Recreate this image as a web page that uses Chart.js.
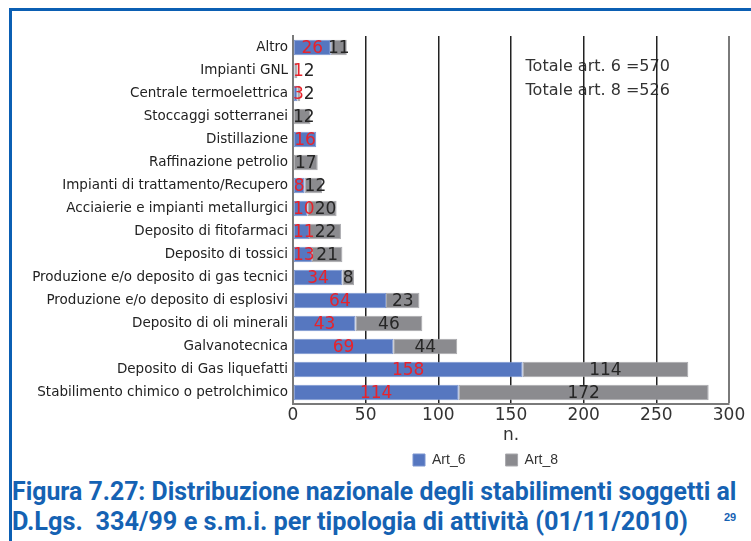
<!DOCTYPE html>
<html>
<head>
<meta charset="utf-8">
<script src="https://cdn.jsdelivr.net/npm/chart.js@4"></script>
<style>
  html, body { margin: 0; padding: 0; background: #fff; }
  body { width: 751px; height: 541px; position: relative; overflow: hidden; }
  #frameTop { position: absolute; left: 9px; top: 8px; width: 742px; height: 3px; background: #0b5fb3; }
  #frameLeft { position: absolute; left: 9px; top: 8px; width: 3px; height: 533px; background: #0b5fb3; }
  #box { position: absolute; left: 12px; top: 11px; width: 739px; height: 466px; }
  .cap { position: absolute; left: 12px; font-family: 'Liberation Sans Narrow', 'Roboto', sans-serif; font-weight: bold;
         font-size: 25px; line-height: 25px; color: #1562b3; white-space: nowrap; transform-origin: 0 0; }
  #pageNo { position: absolute; left: 724px; top: 511px; font-family: 'Liberation Sans Narrow', sans-serif; font-weight: bold;
            font-size: 11px; color: #1562b3; }
</style>
</head>
<body>
<div id="frameTop"></div>
<div id="frameLeft"></div>
<div id="box"><canvas id="chart"></canvas></div>
<div class="cap" id="cap1" style="top:479px">Figura 7.27: Distribuzione nazionale degli stabilimenti soggetti al</div>
<div class="cap" id="cap2" style="top:509px">D.Lgs.&nbsp; 334/99 e s.m.i. per tipologia di attività (01/11/2010)</div>
<div id="pageNo">29</div>
<script>
// categories top to bottom, as in the picture
const categories = [
    'Altro',
    'Impianti GNL',
    'Centrale termoelettrica',
    'Stoccaggi sotterranei',
    'Distillazione',
    'Raffinazione petrolio',
    'Impianti di trattamento/Recupero',
    'Acciaierie e impianti metallurgici',
    'Deposito di fitofarmaci',
    'Deposito di tossici',
    'Produzione e/o deposito di gas tecnici',
    'Produzione e/o deposito di esplosivi',
    'Deposito di oli minerali',
    'Galvanotecnica',
    'Deposito di Gas liquefatti',
    'Stabilimento chimico o petrolchimico'
];
const art6 = [26, 1, 3, 0, 16, 0, 8, 10, 11, 13, 34, 64, 43, 69, 158, 114];
const art8 = [11, 2, 2, 12, 0, 17, 12, 20, 22, 21, 8, 23, 46, 44, 114, 172];
const seriesNames = ['Art_6', 'Art_8'];
const xTicks = [0, 50, 100, 150, 200, 250, 300];
const totals = ['Totale art. 6 =570', 'Totale art. 8 =526'];

const BLUE = '#5677c0';
const GREY = '#8b8b8f';

// fit the caption lines to the width they have in the slide
function fitCaption(id, width) {
    const el = document.getElementById(id);
    el.style.transform = 'scaleX(' + (width / el.offsetWidth) + ')';
}
fitCaption('cap1', 724);
fitCaption('cap2', 676);

// value labels: red inside blue, dark inside grey, pushed right when they collide
const barLabels = {
    id: 'barLabels',
    afterDatasetsDraw(chart) {
        const ctx = chart.ctx;
        ctx.save();
        ctx.font = '17px "DejaVu Sans"';
        ctx.textAlign = 'center';
        ctx.textBaseline = 'middle';
        categories.forEach((c, i) => {
            let edge = chart.chartArea.left;
            chart.data.datasets.forEach((ds, d) => {
                const v = ds.data[i];
                if (!v) return;
                const bar = chart.getDatasetMeta(d).data[i];
                const txt = String(v);
                const w = ctx.measureText(txt).width;
                let x = (bar.x + bar.base) / 2;
                if (x - w / 2 < edge) x = edge + w / 2;
                ctx.fillStyle = d === 0 ? '#e8232b' : '#262626';
                ctx.fillText(txt, x, bar.y + 1);
                edge = x + w / 2;
            });
        });
        ctx.restore();
    }
};

// totals text sits under the grid lines
const totalsText = {
    id: 'totalsText',
    beforeDraw(chart) {
        const ctx = chart.ctx;
        const x = chart.scales.x.getPixelForValue(160);
        ctx.save();
        ctx.font = '16px "DejaVu Sans"';
        ctx.fillStyle = '#333';
        ctx.textBaseline = 'middle';
        totals.forEach((t, k) => ctx.fillText(t, x, chart.chartArea.top + 31 + k * 24));
        ctx.restore();
    }
};

// the legend in the slide starts a bit right of the middle
const legendShift = {
    id: 'legendShift',
    afterLayout(chart) {
        const lg = chart.legend;
        const pad = lg.options.labels.padding;
        const start = (lg.left + pad + lg.right - lg.lineWidths[0]) / 2;
        const dx = 401 - start;
        lg.left += dx;
        lg.right += dx;
    }
};

new Chart(document.getElementById('chart'), {
    type: 'bar',
    data: {
        labels: categories,
        datasets: [
            { label: seriesNames[0], data: art6, backgroundColor: BLUE, borderColor: '#7b95d0', borderWidth: 1, borderSkipped: false },
            { label: seriesNames[1], data: art8, backgroundColor: GREY, borderColor: '#a9a9ad', borderWidth: 1, borderSkipped: false }
        ]
    },
    options: {
        indexAxis: 'y',
        responsive: true,
        maintainAspectRatio: false,
        animation: false,
        categoryPercentage: 0.68,
        barPercentage: 1,
        layout: { padding: { top: 25, right: 22, bottom: 0, left: 0 } },
        plugins: {
            legend: {
                position: 'bottom',
                labels: {
                    boxWidth: 12,
                    boxHeight: 12,
                    padding: 9,
                    color: '#333',
                    font: { family: "'Liberation Sans Narrow', 'Liberation Sans'", size: 14 },
                    generateLabels: (chart) => {
                        const items = Chart.defaults.plugins.legend.labels.generateLabels(chart);
                        // wide gap after the first entry, as in the slide
                        items[0].text = items[0].text + '\u00a0'.repeat(8);
                        return items;
                    }
                }
            },
            tooltip: { enabled: false }
        },
        scales: {
            x: {
                stacked: true,
                min: 0,
                max: 300,
                afterBuildTicks: (scale) => { scale.ticks = xTicks.map(v => ({ value: v })); },
                ticks: {
                    color: '#333',
                    padding: 3,
                    font: { family: 'DejaVu Sans', size: 17, lineHeight: 1 }
                },
                grid: {
                    drawTicks: false,
                    color: (c) => c.tick && c.tick.value === 300 ? '#7a7a7a' : '#222',
                    lineWidth: (c) => c.tick && c.tick.value === 300 ? 2 : 1.5
                },
                border: { color: '#7a7a7a', width: 2 },
                title: {
                    display: true,
                    text: 'n.',
                    color: '#333',
                    padding: { top: 0, bottom: 0 },
                    font: { family: 'DejaVu Sans', size: 17, lineHeight: 1 }
                }
            },
            y: {
                stacked: true,
                afterFit: (scale) => { scale.width = 281; },
                ticks: {
                    color: '#222',
                    padding: 5,
                    font: { family: 'DejaVu Sans', size: 13.5 }
                },
                grid: { display: false, drawTicks: false },
                border: { color: '#7a7a7a', width: 2 }
            }
        }
    },
    plugins: [barLabels, totalsText, legendShift]
});
</script>
</body>
</html>
